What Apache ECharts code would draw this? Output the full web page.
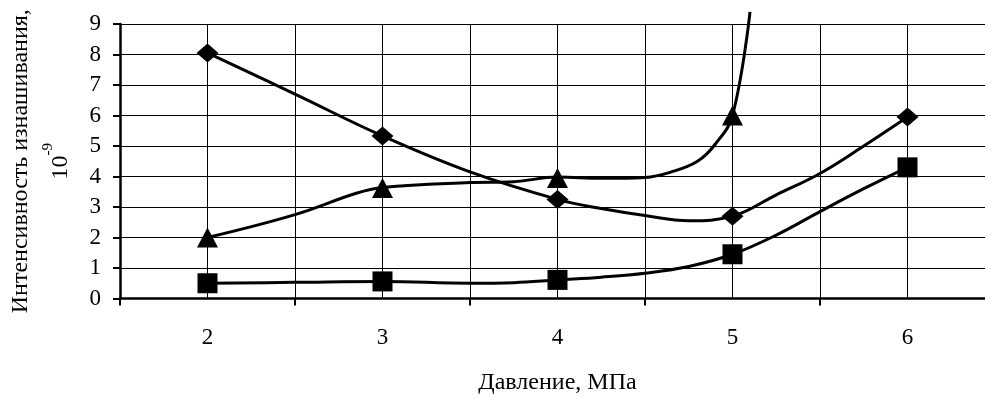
<!DOCTYPE html>
<html>
<head>
<meta charset="utf-8">
<script src="https://cdn.jsdelivr.net/npm/echarts@6/dist/echarts.min.js"></script>
<style>
html,body{margin:0;padding:0;background:#fff;}
#chart{width:985px;height:398px;}
</style>
</head>
<body>
<div id="chart"></div>
<script>
// Category values on the x axis (pressure, MPa)
var pressures = [2, 3, 4, 5, 6];
var yTicks = [0, 1, 2, 3, 4, 5, 6, 7, 8, 9];

// Marker values
var diamondValues  = [8.05, 5.33, 3.25, 2.7, 5.95];
var triangleValues = [2.0, 3.62, 3.95, 6.0];
var squareValues   = [0.5, 0.56, 0.61, 1.45, 4.3];

// Curve traces [pressure, value]
var diamondCurve = [[2,8.05],[2.5,6.7],[3,5.33],[3.5,4.15],[4,3.25],[4.25,2.95],[4.5,2.72],[4.75,2.55],[5,2.7],[5.25,3.4],[5.5,4.1],[5.75,5.0],[6,5.95]];
var triangleCurve = [[2,2.0],[2.5,2.75],[2.85,3.45],[3,3.64],[3.5,3.8],[3.75,3.83],[4,3.98],[4.25,3.94],[4.5,3.97],[4.65,4.15],[4.8,4.5],[4.9,5.05],[5,6.0],[5.1,9.4]];
var squareCurve = [[2,0.5],[2.5,0.53],[3,0.56],[3.5,0.5],[3.75,0.52],[4,0.61],[4.25,0.7],[4.5,0.83],[4.75,1.05],[5,1.45],[5.25,2.08],[5.5,2.85],[5.75,3.6],[6,4.3]];

var FONT = "'Liberation Serif','Times New Roman',serif";

function pairs(xs, ys){ return ys.map(function(v,i){ return [xs[i], v]; }); }

var chart = echarts.init(document.getElementById('chart'), null, {renderer:'canvas'});
var option = {
  animation: false,
  backgroundColor: '#fff',
  grid: {left: 120, width: 875, top: 24, height: 274.5, containLabel: false, outerBoundsMode: 'none'},
  xAxis: [{
    type: 'value', min: 1.5, max: 6.5, interval: 0.5, position: 'bottom',
    axisLine: {show: false}, axisTick: {show: false},
    splitLine: {show: true, lineStyle: {color: '#000', width: 1}},
    axisLabel: {
      color: '#000', fontFamily: FONT, fontSize: 23, margin: 28,
      formatter: function(v){ return pressures.indexOf(v) >= 0 ? String(v) : ''; }
    },
    name: 'Давление, МПа', nameLocation: 'middle', nameGap: 72,
    nameTextStyle: {color: '#000', fontFamily: FONT, fontSize: 24}
  }, {
    type: 'value', min: 1.5, max: 6.5, interval: 1, position: 'bottom', offset: 0,
    axisLine: {show: true, lineStyle: {color: '#000', width: 2.5}},
    axisTick: {show: true, length: 7, lineStyle: {color: '#000', width: 2}},
    axisLabel: {show: false}, splitLine: {show: false}
  }],
  yAxis: {
    type: 'value', min: yTicks[0], max: yTicks[yTicks.length-1], interval: 1,
    axisLine: {show: true, lineStyle: {color: '#000', width: 2.5}},
    axisTick: {show: true, length: 7, lineStyle: {color: '#000', width: 2}},
    splitLine: {show: true, lineStyle: {color: '#000', width: 1}},
    axisLabel: {color: '#000', fontFamily: FONT, fontSize: 23, margin: 19},
    name: '{a|Интенсивность изнашивания,}\n{b|10}{sup|-9}',
    nameLocation: 'middle', nameRotate: 90, nameGap: 39,
    nameTextStyle: {
      color: '#000', fontFamily: FONT, fontSize: 24, align: 'center',
      rich: {
        a: {fontFamily: FONT, fontSize: 24, color: '#000', lineHeight: 40},
        b: {fontFamily: FONT, fontSize: 24, color: '#000', lineHeight: 40},
        sup: {fontFamily: FONT, fontSize: 15, color: '#000', verticalAlign: 'top', lineHeight: 40, padding: [0,0,14,0]}
      }
    }
  },
  series: [
    {type: 'line', data: diamondCurve, smooth: 0.4, showSymbol: false, lineStyle: {color: '#000', width: 3}, z: 3},
    {type: 'line', data: triangleCurve, smooth: 0.4, showSymbol: false, clip: false, lineStyle: {color: '#000', width: 3}, z: 3},
    {type: 'line', data: squareCurve, smooth: 0.4, showSymbol: false, lineStyle: {color: '#000', width: 3}, z: 3},
    {type: 'scatter', data: pairs(pressures, diamondValues), symbol: 'diamond', symbolSize: [22, 19], itemStyle: {color: '#000', opacity: 1}, z: 4},
    {type: 'scatter', data: pairs(pressures, triangleValues), symbol: 'triangle', symbolSize: [21, 20], itemStyle: {color: '#000', opacity: 1}, z: 4},
    {type: 'scatter', data: pairs(pressures, squareValues), symbol: 'rect', symbolSize: [20, 20], itemStyle: {color: '#000', opacity: 1}, z: 4}
  ]
};
chart.setOption(option);
</script>
</body>
</html>
